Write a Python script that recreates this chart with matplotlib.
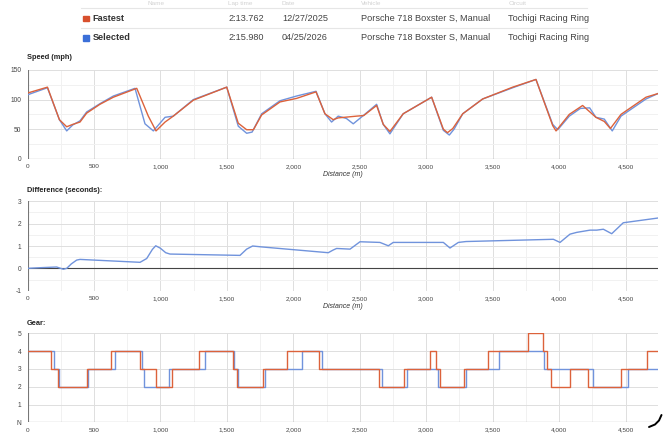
import matplotlib
matplotlib.use('Agg')
from matplotlib import pyplot as plt
from matplotlib.patches import Rectangle
from matplotlib.ticker import MultipleLocator, NullFormatter, FixedLocator
from matplotlib.transforms import offset_copy

W, H = 666, 433
X_MAX = 4742

# speed (mph) against distance (m)
fast_dist = [0, 150, 240, 295, 340, 395, 445, 545, 646, 822, 909, 967, 1035, 1097, 1248, 1499,
             1586, 1649, 1700, 1762, 1900, 2025, 2171, 2238, 2300, 2338, 2477, 2530, 2627, 2677,
             2727, 2827, 3041, 3129, 3160, 3200, 3275, 3425, 3651, 3826, 3952, 3977, 4077, 4177,
             4277, 4340, 4386, 4466, 4654, 4742]
fast_speed = [111, 121, 66, 54, 58, 62, 77, 92, 104, 119, 72, 47, 62, 72, 99, 121,
              60, 49, 49, 74, 96, 102, 113, 76, 66, 69, 72, 73, 90, 58,
              46, 76, 104, 50, 44, 51, 76, 101, 121, 134, 56, 47, 75, 90,
              70, 63, 51, 75, 104, 110]
sel_dist = [0, 150, 240, 295, 340, 395, 445, 545, 646, 809, 884, 947, 1035, 1097, 1248, 1499,
            1586, 1649, 1690, 1762, 1900, 2025, 2171, 2238, 2288, 2338, 2400, 2451, 2527, 2627,
            2677, 2727, 2827, 3041, 3129, 3174, 3210, 3275, 3425, 3651, 3826, 3952, 3990, 4077,
            4160, 4230, 4277, 4340, 4400, 4466, 4654, 4742]
sel_speed = [108, 120, 66, 47, 57, 64, 79, 93, 106, 119, 59, 47, 70, 72, 100, 121,
             55, 43, 45, 76, 98, 106, 114, 76, 62, 72, 68, 59, 73, 92,
             58, 42, 76, 104, 48, 40, 50, 76, 101, 120, 134, 58, 49, 72,
             85, 86, 70, 67, 47, 72, 101, 110]

# time difference (s)
diff_dist = [0, 100, 219, 270, 295, 330, 370, 395, 847, 897, 940, 965, 1000, 1040, 1072, 1599,
             1649, 1694, 1760, 2263, 2300, 2326, 2427, 2502, 2652, 2715, 2752, 3129, 3179, 3242,
             3300, 3957, 4007, 4082, 4133, 4233, 4283, 4333, 4396, 4483, 4742]
diff_sec = [0, 0.03, 0.06, -0.04, 0, 0.2, 0.37, 0.4, 0.27, 0.44, 0.85, 1.01, 0.9, 0.7, 0.64, 0.58,
            0.86, 1.0, 0.96, 0.70, 0.82, 0.89, 0.86, 1.19, 1.16, 1.01, 1.16, 1.16, 0.91, 1.16,
            1.2, 1.30, 1.16, 1.53, 1.61, 1.71, 1.71, 1.75, 1.55, 2.04, 2.25]

# gear shifts (distance where the gear starts)
fast_gear_dist = [0, 174, 232, 445, 628, 847, 964, 1090, 1290, 1544, 1574, 1774, 1950, 2196, 2647,
                  2833, 3029, 3074, 3104, 3284, 3463, 3764, 3880, 3907, 3937, 4082, 4220, 4466,
                  4664, 4742]
fast_gear = [4, 3, 2, 3, 4, 3, 2, 3, 4, 3, 2, 3, 4, 3, 2,
             3, 4, 3, 2, 3, 4, 5, 4, 3, 2, 3, 2, 3,
             4, 4]
sel_gear_dist = [0, 199, 239, 458, 658, 859, 879, 1067, 1336, 1556, 1582, 1787, 2063, 2214, 2665,
                 2858, 3087, 3300, 3548, 3889, 4253, 4516, 4742]
sel_gear = [4, 3, 2, 3, 4, 3, 2, 3, 4, 3, 2, 3, 4, 3, 2,
            3, 2, 3, 4, 3, 2, 3, 3]

dist_ticks = [0, 500, 1000, 1500, 2000, 2500, 3000, 3500, 4000, 4500]

lap_names = ['Fastest', 'Selected']
lap_times = ['2:13.762', '2:15.980']
lap_dates = ['12/27/2025', '04/25/2026']
lap_cars = ['Porsche 718 Boxster S, Manual', 'Porsche 718 Boxster S, Manual']
lap_tracks = ['Tochigi Racing Ring', 'Tochigi Racing Ring']
headers = ['Name', 'Lap time', 'Date', 'Vehicle', 'Circuit']

RED = '#dc623b'
BLUE = '#7093dc'

plt.rcParams['font.family'] = ['Liberation Sans', 'DejaVu Sans']
plt.rcParams['axes.unicode_minus'] = False


def px_axes(fig, left, top, right, bottom):
    return fig.add_axes([left / W, 1 - bottom / H, (right - left) / W, (bottom - top) / H])


def style_axes(ax, ymin, ymax, ymajor, yminor=None):
    ax.set_xlim(0, X_MAX)
    ax.set_ylim(ymin, ymax)
    ax.xaxis.set_major_locator(FixedLocator(dist_ticks))
    ax.xaxis.set_minor_locator(MultipleLocator(250))
    ax.xaxis.set_major_formatter(NullFormatter())
    ax.yaxis.set_major_locator(MultipleLocator(ymajor))
    if yminor:
        ax.yaxis.set_minor_locator(MultipleLocator(yminor))
    ax.grid(which='major', color='#dedede', lw=0.7)
    ax.grid(which='minor', color='#f1f1f1', lw=0.7)
    ax.tick_params(which='both', length=0, labelsize=4.8, labelcolor='#444')
    ax.tick_params(axis='y', pad=4.5)
    for s in ax.spines.values():
        s.set_visible(False)
    ax.axvline(0, color='#777', lw=0.8, zorder=1)
    ax.axhline(0, color='#444', lw=0.8, zorder=1)
    ax.set_axisbelow(True)
    # distance labels under the plot, placed on the x scale
    tr = offset_copy(ax.get_xaxis_transform(), fig=ax.figure, y=-5.6, units='points')
    for d in dist_ticks:
        ax.text(d, 0, f'{d:,}', transform=tr, ha='center', va='center',
                fontsize=4.6, color='#444')


fig = plt.figure(figsize=(W / 100, H / 100), dpi=100, facecolor='white')

ax1 = px_axes(fig, 27.5, 70, 657.7, 158.7)
style_axes(ax1, 0, 150, 50, 25)
ax1.plot(sel_dist, sel_speed, color=BLUE, lw=1.0, zorder=3)
ax1.plot(fast_dist, fast_speed, color=RED, lw=1.0, zorder=4)

ax2 = px_axes(fig, 27.5, 201.3, 657.7, 290.7)
style_axes(ax2, -1, 3, 1, 0.5)
ax2.plot(diff_dist, diff_sec, color=BLUE, lw=1.0, zorder=3)

ax3 = px_axes(fig, 27.5, 333.3, 657.7, 422.3)
style_axes(ax3, 0, 5, 1)
ax3.yaxis.set_major_locator(FixedLocator([0, 1, 2, 3, 4, 5]))
ax3.set_yticklabels(['N', '1', '2', '3', '4', '5'])
ax3.plot(sel_gear_dist, sel_gear, color=BLUE, lw=1.0, drawstyle='steps-post', zorder=3)
ax3.plot(fast_gear_dist, fast_gear, color=RED, lw=1.0, drawstyle='steps-post', zorder=4)

# overlay in pixel coords for the table and titles
ov = fig.add_axes([0, 0, 1, 1], facecolor='none')
ov.set_xlim(0, W)
ov.set_ylim(H, 0)
ov.axis('off')

cols = [147, 228.5, 282, 361, 508.5]
for x, h in zip(cols, headers):
    ov.text(x, 3.6, h, fontsize=4.6, color='#d2d2d2', va='center')
for y in [8.3, 28.3]:
    ov.plot([81, 587], [y, y], color='#e6e6e6', lw=0.8)

rows_y = [18.5, 37.8]
for i, y in enumerate(rows_y):
    c = '#d8502d' if i == 0 else '#3b6fd8'
    ov.add_patch(Rectangle((83, y - 2.8), 5.5, 5.5, color=c))
    ov.text(92.8, y, lap_names[i], fontsize=6.6, fontweight='bold', color='#333', va='center')
    ov.text(cols[1], y, lap_times[i], fontsize=6.6, color='#444', va='center')
    ov.text(cols[2], y, lap_dates[i], fontsize=6.6, color='#444', va='center')
    ov.text(cols[3], y, lap_cars[i], fontsize=6.6, color='#444', va='center')
    ov.text(cols[4], y, lap_tracks[i], fontsize=6.6, color='#444', va='center')

ov.text(27, 57.5, 'Speed (mph)', fontsize=5.3, fontweight='bold', color='#222', va='center')
ov.text(27, 190.7, 'Difference (seconds):', fontsize=5.3, fontweight='bold', color='#222', va='center')
ov.text(27, 323.3, 'Gear:', fontsize=5.3, fontweight='bold', color='#222', va='center')
ov.text(343, 174.5, 'Distance (m)', fontsize=5.0, style='italic', color='#333', ha='center', va='center')
ov.text(343, 306, 'Distance (m)', fontsize=5.0, style='italic', color='#333', ha='center', va='center')

# resize cursor in the corner
ov.plot([649, 655, 659, 661.5], [427, 424.5, 420.5, 415], color='black', lw=1.4,
        solid_capstyle='round')

fig.savefig('out.png', dpi=100, facecolor='white')
